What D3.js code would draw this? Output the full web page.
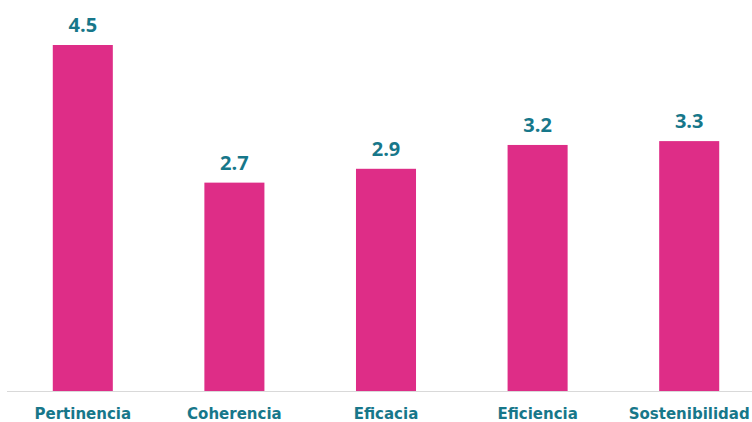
<!DOCTYPE html>
<html>
<head>
<meta charset="utf-8">
<script src="https://cdn.jsdelivr.net/npm/d3@7"></script>
<style>
  body { margin: 0; background: #fff; }
  svg { display: block; }
</style>
</head>
<body>
<div id="chart"></div>
<script>
const categories = ["Pertinencia", "Coherencia", "Eficacia", "Eficiencia", "Sostenibilidad"];
const values = [4.5, 2.71, 2.89, 3.2, 3.25];
const valueLabels = ["4.5", "2.7", "2.9", "3.2", "3.3"];

const width = 752;
const height = 422;
const baseY = 391;

const svg = d3
  .select("#chart")
  .append("svg")
  .attr("width", width)
  .attr("height", height);

const x = d3.scaleBand().domain(categories).range([7, 765]).paddingInner(0.604).paddingOuter(0.302);
const y = d3.scaleLinear().domain([0, 4.5]).range([baseY, 45]);

svg
  .append("line")
  .attr("x1", 7)
  .attr("x2", width)
  .attr("y1", baseY + 0.5)
  .attr("y2", baseY + 0.5)
  .attr("stroke", "#d9d9d9")
  .attr("stroke-width", 1.2);

svg
  .selectAll("rect.bar")
  .data(values)
  .enter()
  .append("rect")
  .attr("class", "bar")
  .attr("x", (d, i) => x(categories[i]))
  .attr("width", x.bandwidth())
  .attr("y", (d) => y(d))
  .attr("height", (d) => baseY - y(d))
  .attr("fill", "#de2d87");

svg
  .selectAll("text.val")
  .data(values)
  .enter()
  .append("text")
  .attr("class", "val")
  .attr("x", (d, i) => x(categories[i]) + x.bandwidth() / 2)
  .attr("y", (d) => y(d) - 13)
  .attr("text-anchor", "middle")
  .attr("font-family", "'Open Sans', sans-serif")
  .attr("font-weight", "bold")
  .attr("font-size", "20px")
  .attr("fill", "#17778a")
  .text((d, i) => valueLabels[i]);

svg
  .selectAll("text.cat")
  .data(categories)
  .enter()
  .append("text")
  .attr("class", "cat")
  .attr("x", (d) => x(d) + x.bandwidth() / 2)
  .attr("y", 419)
  .attr("text-anchor", "middle")
  .attr("font-family", "'DejaVu Sans', sans-serif")
  .attr("font-weight", "bold")
  .attr("font-size", "15px")
  .attr("fill", "#17778a")
  .text((d) => d);
</script>
</body>
</html>
